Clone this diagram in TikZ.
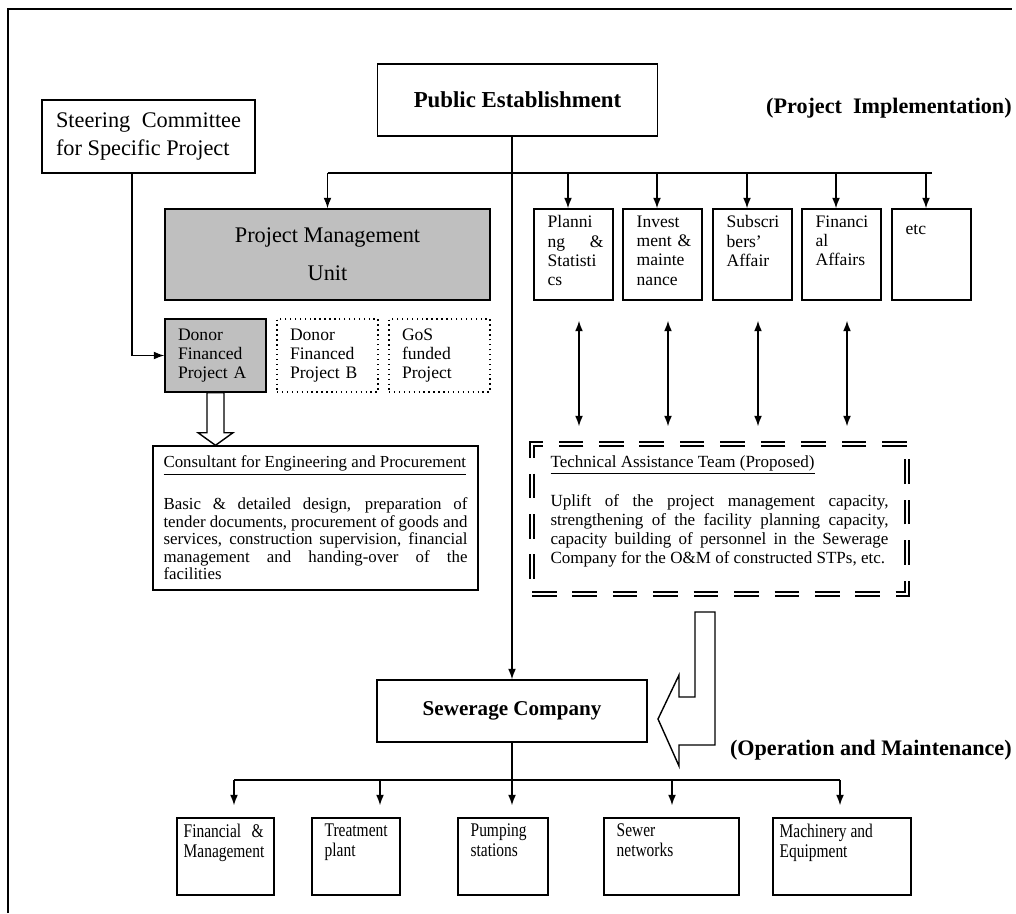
\documentclass[tikz,border=0pt]{standalone}
\usepackage{fontspec}
\setmainfont{Liberation Serif}
\newfontfamily\narrowfont[FakeStretch=0.8]{Liberation Serif}
\usetikzlibrary{arrows.meta,calc}

\tikzset{
  plainbox/.style={draw, thick, inner sep=0pt},
  headbox/.style={plainbox, font=\bfseries\fontsize{13}{15}\selectfont},
  deptbox/.style={plainbox, minimum width=1.58cm, minimum height=1.82cm},
  projbox/.style={plainbox, minimum width=2.02cm, minimum height=1.46cm, text width=1.5cm, align=left, font=\fontsize{10}{10.8}\selectfont},
  lowbox/.style={plainbox, minimum height=1.54cm},
  intext/.style={anchor=north west, align=left, text width=1.12cm, inner xsep=0.28cm, inner ysep=0.14cm, font=\fontsize{10}{11}\selectfont},
  lowtext/.style={anchor=north west, align=left, inner xsep=0.26cm, inner ysep=0.12cm, font=\narrowfont\fontsize{11}{11.4}\selectfont},
  note/.style={inner sep=0pt, font=\bfseries\fontsize{12.6}{15}\selectfont},
  tatbox/.style={draw, double, double distance=1.5pt, line width=0.8pt, dash pattern=on 14pt off 9pt, inner sep=0pt},
  link/.style={thick, -{Latex[length=6pt,width=4.5pt]}},
  both/.style={thick, {Latex[length=6pt,width=4.5pt]}-{Latex[length=6pt,width=4.5pt]}},
}

\begin{document}
\begin{tikzpicture}[x=0.02cm,y=-0.02cm]
\useasboundingbox (0,0) rectangle (1016,913);
\draw[line width=0.6pt] (8,913) -- (8,9) -- (1012,9);

% project implementation
\node[headbox, minimum width=5.6cm, minimum height=1.44cm] (pe) at (517.5,100) {Public Establishment};
\node[note, anchor=east] (impl) at (1012,108) {(Project\ \ Implementation)};
\node[plainbox, minimum width=4.26cm, minimum height=1.46cm, text width=3.7cm, align=justify, font=\fontsize{12.7}{16}\selectfont] (steer) at (148.5,136.5) {Steering Committee\linebreak for Specific Project};

\node[plainbox, fill=black!25, minimum width=6.5cm, minimum height=1.82cm, align=center, font=\fontsize{12.7}{21.6}\selectfont] (pmu) at (327.5,254.5) {Project Management\\Unit};

\node[deptbox] (plan) at (573.5,254.5) {};
\node[deptbox] (inv) at (662.5,254.5) {};
\node[deptbox] (sub) at (752.5,254.5) {};
\node[deptbox] (fin) at (841.5,254.5) {};
\node[deptbox] (etc) at (931.5,254.5) {};
\node[intext] (plantx) at (plan.north west) {Planni\\ng \hfill \&\\Statisti\\cs};
\node[intext] (invtx) at (inv.north west) {Invest\\ment \&\\mainte\\nance};
\node[intext] (subtx) at (sub.north west) {Subscri\\bers'\\Affair};
\node[intext] (fintx) at (fin.north west) {Financi\\al\\Affairs};
\node[intext] (etctx) at (etc.north west) {\mbox{}\\etc};

\coordinate (bus) at (0,173);
\draw[thick] (pmu.north |- bus) -- (etc.north |- bus);
\draw[link] (pmu.north |- bus) -- (pmu.north);
\foreach \n in {plan,inv,sub,fin,etc}
  \draw[link] ([xshift=-0.11cm]\n.north |- bus) -- ([xshift=-0.11cm]\n.north);

\node[projbox, fill=black!25] (donA) at (215.5,355.5) {Donor\\Financed\\Project A};
\node[projbox, dotted] (donB) at (327.5,355.5) {Donor\\Financed\\Project B};
\node[projbox, dotted] (gos) at (439.5,355.5) {GoS\\funded\\Project};
\draw[link] ([xshift=-0.33cm]steer.south) |- (donA.west);

\node[plainbox, minimum width=6.5cm, minimum height=2.88cm, text width=6.08cm, align=justify, font=\fontsize{9.6}{10}\selectfont] (cons) at (315.5,518) {\underline{Consultant for Engineering and Procurement}\\[12pt]
Basic \& detailed design, preparation of\linebreak
tender documents, procurement of goods and\linebreak
services, construction supervision, financial\linebreak
management and handing-over of the\linebreak
facilities};
\draw[thick, fill=white] ($(donA.south)+(-8.5,0)$) -- ($(donA.south)+(8.5,0)$) -- ($(donA.south)+(8.5,40)$) -- ($(donA.south)+(17.5,40)$) -- (donA.south |- cons.north) -- ($(donA.south)+(-17.5,40)$) -- ($(donA.south)+(-8.5,40)$) -- cycle;

\node[tatbox, minimum width=7.5cm, minimum height=3.0cm, text width=6.76cm, align=justify, font=\fontsize{9.7}{10.8}\selectfont] (tat) at (719.5,519) {\underline{Technical Assistance Team (Proposed)}\\[10.8pt]
Uplift of the project management capacity,\linebreak
strengthening of the facility planning capacity,\linebreak
capacity building of personnel in the Sewerage\linebreak
Company for the O\&M of constructed STPs, etc.\\ \mbox{}};
\foreach \n in {plan,inv,sub,fin}
  \draw[both, shorten <=0.4cm, shorten >=0.34cm] ([xshift=0.11cm]\n.south) -- ([xshift=0.11cm]\n.south |- tat.north);

% operation and maintenance
\node[headbox, minimum width=5.4cm, minimum height=1.24cm, font=\bfseries\fontsize{12}{14}\selectfont] (sew) at (512,711) {Sewerage Company};
\node[note, anchor=east] (om) at (1012,750) {(Operation and Maintenance)};
\draw[link] (pe.south -| sew.north) -- (sew.north);
\draw[thick, fill=white] (695,612) -- (715,612) -- (715,745) -- (679,745) -- (679,766) -- (658,719) -- (679,675) -- (679,697) -- (695,697) -- cycle;

\node[lowbox, minimum width=1.94cm] (fm) at (225.5,856.5) {};
\node[lowbox, minimum width=1.76cm] (tp) at (356,856.5) {};
\node[lowbox, minimum width=1.8cm] (ps) at (503,856.5) {};
\node[lowbox, minimum width=2.7cm] (sn) at (671.5,856.5) {};
\node[lowbox, minimum width=2.76cm] (me) at (842,856.5) {};
\node[lowtext, inner xsep=0.14cm, text width=1.6cm] (fmtx) at (fm.north west) {Financial \hfill \&\\Management};
\node[lowtext] (tptx) at (tp.north west) {Treatment\\plant};
\node[lowtext] (pstx) at (ps.north west) {Pumping\\stations};
\node[lowtext] (sntx) at (sn.north west) {Sewer\\networks};
\node[lowtext, inner xsep=0.14cm] (metx) at (me.north west) {Machinery and\\Equipment};

\coordinate (t1) at (234,780);
\coordinate (t2) at (380,780);
\coordinate (t4) at (672,780);
\coordinate (t5) at (840,780);
\draw[thick] (t1) -- (t5);
\draw[link, shorten >=0.24cm] (sew.south) -- (sew.south |- ps.north);
\draw[link, shorten >=0.24cm] (t1) -- (t1 |- fm.north);
\draw[link, shorten >=0.24cm] (t2) -- (t2 |- tp.north);
\draw[link, shorten >=0.24cm] (t4) -- (t4 |- sn.north);
\draw[link, shorten >=0.24cm] (t5) -- (t5 |- me.north);
\end{tikzpicture}
\end{document}
